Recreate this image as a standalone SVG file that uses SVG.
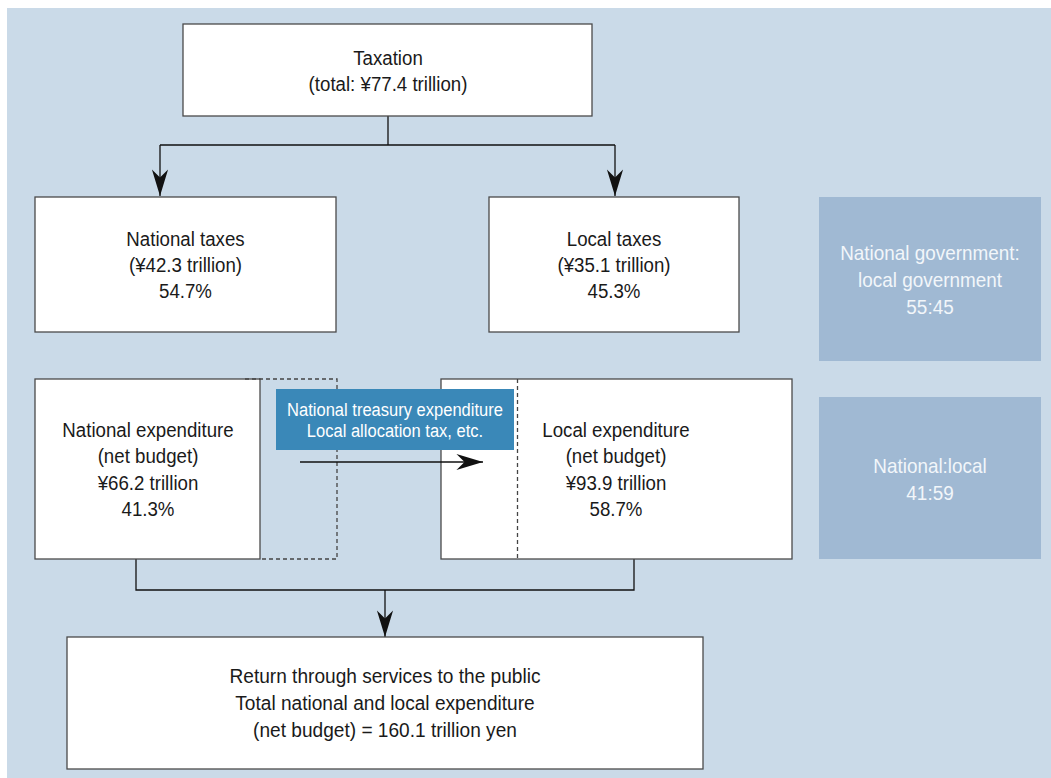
<svg xmlns="http://www.w3.org/2000/svg" width="1051" height="778" viewBox="0 0 1051 778">
<style>
.box{fill:#fff;stroke:#4a4a4a;stroke-width:1.3}
.ratio{fill:#A0B9D3}
.t{font-family:"Liberation Sans",Arial,sans-serif;font-size:21px;fill:#1a1a1a;text-anchor:middle}
.w{fill:#f2f6fa}
.lbl{font-size:19px;fill:#fff}
.con{fill:none;stroke:#111;stroke-width:1.3}
.dash{fill:none;stroke:#444;stroke-width:1.3;stroke-dasharray:4 3}
</style>
<defs>
<marker id="ah" markerUnits="userSpaceOnUse" markerWidth="30" markerHeight="20" viewBox="-24 -8 26 16" refX="0" refY="0" orient="auto">
<path d="M0,0 L-23,-7 L-16,0 L-23,7 Z" fill="#111"/>
</marker>
</defs>
<rect x="7" y="8" width="1044" height="770" fill="#CADAE8"/>

<g id="connectors">
<path class="con" d="M388,116 V145 M160,145 H615"/>
<path class="con" d="M160,145 V196" marker-end="url(#ah)"/>
<path class="con" d="M615,145 V196" marker-end="url(#ah)"/>
<path class="con" d="M136,559 V590 H634 V559"/>
<path class="con" d="M385,590 V637" marker-end="url(#ah)"/>
</g>

<g id="taxation">
<rect class="box" x="183" y="24" width="409" height="92"/>
<g transform="translate(388 0) scale(0.89 1)">
<text class="t" x="0" y="65">Taxation</text>
<text class="t" x="0" y="91">(total: ¥77.4 trillion)</text>
</g>
</g>

<g id="national-taxes">
<rect class="box" x="35" y="197" width="301" height="135"/>
<g transform="translate(185.5 0) scale(0.89 1)">
<text class="t" x="0" y="246">National taxes</text>
<text class="t" x="0" y="272">(¥42.3 trillion)</text>
<text class="t" x="0" y="298">54.7%</text>
</g>
</g>

<g id="local-taxes">
<rect class="box" x="489" y="197" width="250" height="135"/>
<g transform="translate(614 0) scale(0.89 1)">
<text class="t" x="0" y="246">Local taxes</text>
<text class="t" x="0" y="272">(¥35.1 trillion)</text>
<text class="t" x="0" y="298">45.3%</text>
</g>
</g>

<g id="ratio-taxes">
<rect class="ratio" x="819" y="197" width="222" height="164"/>
<g transform="translate(930 0) scale(0.9 1)">
<text class="t w" x="0" y="260">National government:</text>
<text class="t w" x="0" y="287">local government</text>
<text class="t w" x="0" y="314">55:45</text>
</g>
</g>

<g id="national-expenditure">
<rect class="box" x="35" y="379" width="225" height="180"/>
<path class="dash" d="M245,379 H337 V559 H260"/>
<g transform="translate(148 0) scale(0.89 1)">
<text class="t" x="0" y="437">National expenditure</text>
<text class="t" x="0" y="463">(net budget)</text>
<text class="t" x="0" y="490">¥66.2 trillion</text>
<text class="t" x="0" y="516">41.3%</text>
</g>
</g>

<g id="local-expenditure">
<rect class="box" x="441" y="379" width="351" height="180"/>
<path class="dash" d="M517.5,379 V559"/>
<g transform="translate(616 0) scale(0.89 1)">
<text class="t" x="0" y="437">Local expenditure</text>
<text class="t" x="0" y="463">(net budget)</text>
<text class="t" x="0" y="490">¥93.9 trillion</text>
<text class="t" x="0" y="516">58.7%</text>
</g>
</g>

<g id="ratio-expenditure">
<rect class="ratio" x="819" y="397" width="222" height="162"/>
<g transform="translate(930 0) scale(0.9 1)">
<text class="t w" x="0" y="473">National:local</text>
<text class="t w" x="0" y="500">41:59</text>
</g>
</g>

<g id="transfer">
<rect x="276" y="389" width="238" height="61" fill="#3A88B8"/>
<g transform="translate(395 0) scale(0.87 1)">
<text class="t lbl" x="0" y="416">National treasury expenditure</text>
<text class="t lbl" x="0" y="437">Local allocation tax, etc.</text>
</g>
<path class="con" d="M300,462 H483" marker-end="url(#ah)"/>
</g>

<g id="return">
<rect class="box" x="67" y="637" width="636" height="132"/>
<g transform="translate(385 0) scale(0.91 1)">
<text class="t" x="0" y="683">Return through services to the public</text>
<text class="t" x="0" y="710">Total national and local expenditure</text>
<text class="t" x="0" y="737">(net budget) = 160.1 trillion yen</text>
</g>
</g>
</svg>
